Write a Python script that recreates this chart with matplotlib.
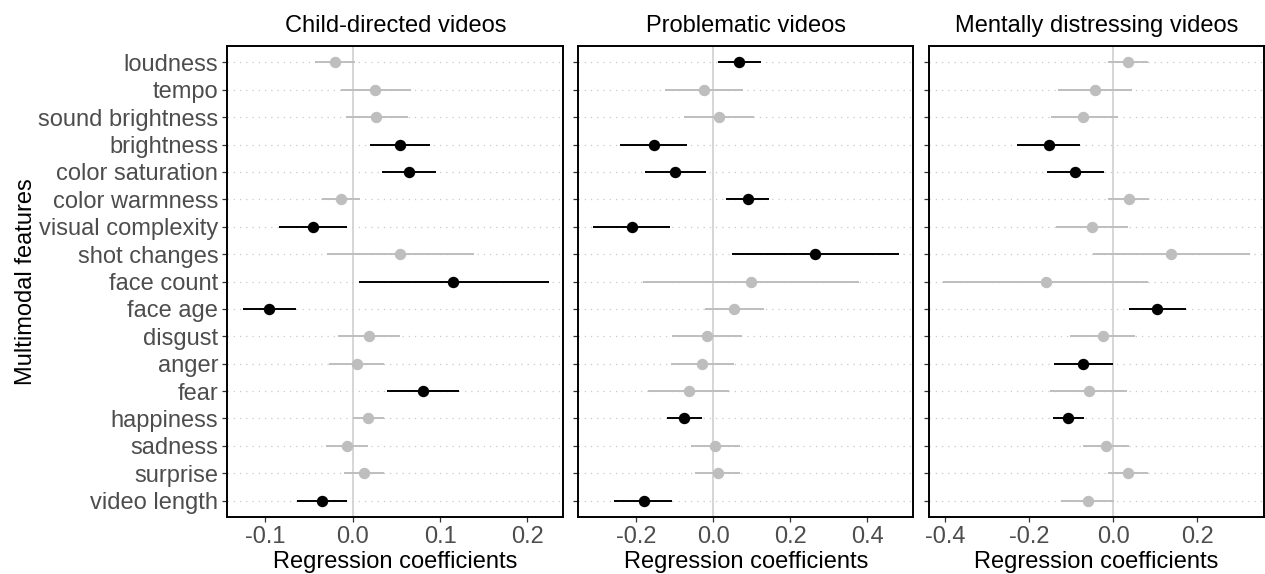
import numpy as np
import matplotlib
matplotlib.use("Agg")
import matplotlib.pyplot as plt

plt.rcParams['font.family'] = ['Liberation Sans', 'DejaVu Sans']

features = ["loudness", "tempo", "sound brightness", "brightness", "color saturation",
            "color warmness", "visual complexity", "shot changes", "face count", "face age",
            "disgust", "anger", "fear", "happiness", "sadness", "surprise", "video length"]

titles = ["Child-directed videos", "Problematic videos", "Mentally distressing videos"]

# child-directed
child_est = [-0.020, 0.026, 0.027, 0.054, 0.064, -0.013, -0.046, 0.054, 0.115, -0.096,
             0.019, 0.005, 0.080, 0.017, -0.006, 0.013, -0.035]
child_lo = [-0.043, -0.013, -0.008, 0.020, 0.034, -0.035, -0.084, -0.029, 0.007, -0.126,
            -0.017, -0.027, 0.039, 0.000, -0.030, -0.010, -0.064]
child_hi = [0.003, 0.067, 0.063, 0.088, 0.095, 0.008, -0.007, 0.139, 0.225, -0.065,
            0.054, 0.036, 0.122, 0.036, 0.018, 0.036, -0.006]
child_sig = [0, 0, 0, 1, 1, 0, 1, 0, 1, 1, 0, 0, 1, 0, 0, 0, 1]

# problematic
prob_est = [0.068, -0.025, 0.014, -0.155, -0.099, 0.089, -0.212, 0.265, 0.098, 0.055,
            -0.017, -0.029, -0.063, -0.075, 0.005, 0.011, -0.181]
prob_lo = [0.013, -0.125, -0.077, -0.242, -0.177, 0.034, -0.312, 0.049, -0.182, -0.021,
           -0.108, -0.110, -0.169, -0.120, -0.058, -0.047, -0.257]
prob_hi = [0.125, 0.076, 0.107, -0.067, -0.019, 0.146, -0.112, 0.482, 0.379, 0.133,
           0.074, 0.055, 0.042, -0.030, 0.070, 0.070, -0.107]
prob_sig = [1, 0, 0, 1, 1, 1, 1, 1, 0, 0, 0, 0, 0, 1, 0, 0, 1]

# mentally distressing
dist_est = [0.035, -0.044, -0.071, -0.153, -0.091, 0.037, -0.051, 0.139, -0.159, 0.105,
            -0.025, -0.071, -0.058, -0.106, -0.017, 0.035, -0.060]
dist_lo = [-0.013, -0.132, -0.148, -0.229, -0.158, -0.011, -0.136, -0.048, -0.404, 0.038,
           -0.102, -0.140, -0.150, -0.144, -0.071, -0.013, -0.124]
dist_hi = [0.083, 0.046, 0.011, -0.078, -0.022, 0.085, 0.035, 0.325, 0.084, 0.173,
           0.053, -0.001, 0.033, -0.068, 0.037, 0.083, 0.003]
dist_sig = [0, 0, 0, 1, 1, 0, 0, 0, 0, 1, 0, 1, 0, 1, 0, 0, 0]

panels = [
    (child_est, child_lo, child_hi, child_sig, (-0.1436, 0.2412), [-0.1, 0.0, 0.1, 0.2]),
    (prob_est, prob_lo, prob_hi, prob_sig, (-0.3506, 0.5195), [-0.2, 0.0, 0.2, 0.4]),
    (dist_est, dist_lo, dist_hi, dist_sig, (-0.4374, 0.3595), [-0.4, -0.2, 0.0, 0.2]),
]

W, H = 1265, 574
fig = plt.figure(figsize=(W / 100, H / 100), dpi=100)
lefts = [227.3, 578.3, 929.3]
rights = [563.3, 913.3, 1264]
top, bottom = 46, 517

y = np.arange(len(features))
grey = "#BEBEBE"
for i, (est, lo, hi, sig, xlim, ticks) in enumerate(panels):
    ax = fig.add_axes([lefts[i] / W, 1 - bottom / H, (rights[i] - lefts[i]) / W, (bottom - top) / H])
    for yy in y:
        ax.axhline(yy, color="#c8c8c8", lw=0.9, ls=(0, (1, 4)), zorder=0)
    ax.axvline(0, color="#cfcfcf", lw=1.2, zorder=1)
    for k in range(len(features)):
        c = "black" if sig[k] else grey
        ax.plot([lo[k], hi[k]], [y[k], y[k]], color=c, lw=1.4, solid_capstyle="butt", zorder=2)
        ax.plot(est[k], y[k], "o", color=c, ms=7.2, zorder=3)
    ax.set_xlim(*xlim)
    ax.set_ylim(len(features) - 0.4, -0.6)
    ax.set_xticks(ticks)
    ax.set_xticklabels(["%.1f" % t for t in ticks])
    ax.set_yticks(y)
    if i == 0:
        ax.set_yticklabels(features)
        ax.set_ylabel("Multimodal features", fontsize=17, labelpad=1)
    else:
        ax.set_yticklabels([])
    ax.tick_params(axis="both", colors="#333333", labelcolor="#4D4D4D", labelsize=17,
                   length=3.5, width=0.9, pad=3)
    for s in ax.spines.values():
        s.set_linewidth(1.4)
        s.set_color("black")
    ax.set_xlabel("Regression coefficients", fontsize=17, labelpad=2)
    ax.set_title(titles[i], fontsize=17, pad=10)

fig.savefig("out.png", dpi=100)
